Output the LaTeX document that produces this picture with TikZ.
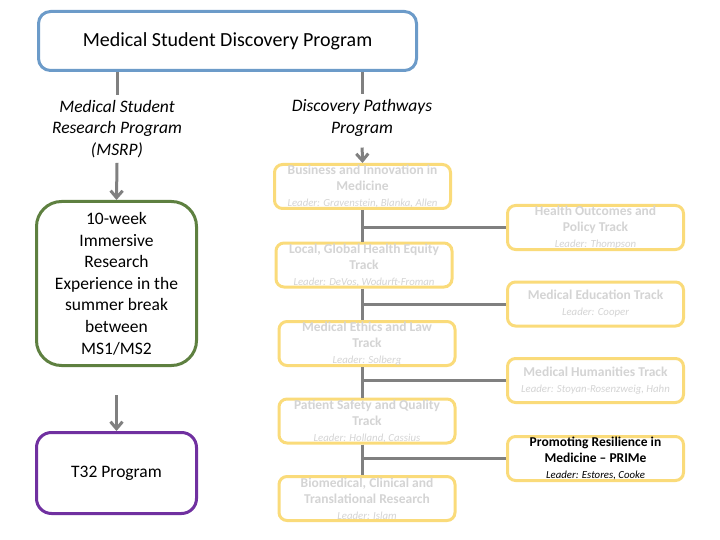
\documentclass[tikz,border=0pt]{standalone}
\usepackage{fontspec}
\setmainfont{Carlito}
\usetikzlibrary{arrows.meta}
\definecolor{progblue}{HTML}{6C9BC9}
\definecolor{proggreen}{HTML}{5E8040}
\definecolor{progpurple}{HTML}{7030A0}
\definecolor{trackyellow}{HTML}{FADB7A}
\definecolor{linkgray}{HTML}{808080}
\definecolor{fadetext}{HTML}{D4D4D4}
\newcommand\trackleader[1]{{\fontsize{10.8}{16}\selectfont\mdseries\itshape #1}}
\begin{document}
\begin{tikzpicture}[x=1pt,y=-1pt,
    prog/.style={draw,line width=3pt,fill=white,align=center,inner sep=0pt},
    track/.style={draw=trackyellow,line width=3pt,rounded corners=8pt,fill=white,align=center,inner sep=0pt,
      minimum width=176pt,minimum height=44pt,text=fadetext,font=\fontsize{13.5}{16}\selectfont\bfseries},
    label/.style={align=center,inner sep=5pt,font=\fontsize{17.5}{21.5}\selectfont\itshape},
    link/.style={draw=linkgray,line width=3pt},
    arr/.style={link,-{Straight Barb[length=7pt,width=12pt]}}]
    \useasboundingbox (0,0) rectangle (720,540);
    \node[prog,draw=progblue,rounded corners=12pt,minimum width=378pt,minimum height=59pt,font=\fontsize{20}{24}\selectfont] (top) at (227.5,41) {Medical Student Discovery Program};
    \node[label] (msrp) at (117,129) {Medical Student\\Research Program\\(MSRP)};
    \node[label] (dpp) at (362,118) {Discovery Pathways\\Program};
    \node[prog,draw=proggreen,rounded corners=25pt,minimum width=160pt,minimum height=164pt,font=\fontsize{17.5}{21.6}\selectfont] (summer) at (116.5,283.5) {10-week\\Immersive\\Research\\Experience in the\\summer break\\between\\MS1/MS2};
    \node[prog,draw=progpurple,rounded corners=15pt,minimum width=160pt,minimum height=81pt,font=\fontsize{17.5}{21.6}\selectfont] (T32) at (116.5,473) {T32 Program};
    \node[track] (biz) at (362.5,186.5) {Business and Innovation in\\Medicine\\\trackleader{Leader: Gravenstein, Blanka, Allen}};
    \node[track] (equity) at (364,265) {Local, Global Health Equity\\Track\\\trackleader{Leader: DeVos, Wodurft-Froman}};
    \node[track] (ethics) at (367,343.5) {Medical Ethics and Law\\Track\\\trackleader{Leader: Solberg}};
    \node[track] (safety) at (367,421) {Patient Safety and Quality\\Track\\\trackleader{Leader: Holland, Cassius}};
    \node[track] (biomed) at (367,498.5) {Biomedical, Clinical and\\Translational Research\\\trackleader{Leader: Islam}};
    \node[track] (policy) at (595.5,227.5) {Health Outcomes and\\Policy Track\\\trackleader{Leader: Thompson}};
    \node[track] (edu) at (595.5,304) {Medical Education Track\\\trackleader{Leader: Cooper}};
    \node[track] (human) at (595.5,380.5) {Medical Humanities Track\\\trackleader{Leader: Stoyan-Rosenzweig, Hahn}};
    \node[track,text=black] (prime) at (595.5,458.5) {Promoting Resilience in\\Medicine -- PRIMe\\\trackleader{Leader: Estores, Cooke}};
    \draw[link] (top.south -| msrp.north) -- (msrp.north);
    \draw[link] (top.south -| dpp.north) -- (dpp.north);
    \draw[arr] (msrp.south) -- (summer.north);
    \draw[arr,shorten <=28pt] (summer.south) -- (T32.north);
    \draw[arr,shorten <=6pt] (dpp.south) -- (biz.north);
    \draw[link] (biz.south) -- (biz.south |- equity.north);
    \draw[link] (biz.south |- equity.south) -- (biz.south |- ethics.north);
    \draw[link] (biz.south |- ethics.south) -- (biz.south |- safety.north);
    \draw[link] (biz.south |- safety.south) -- (biz.south |- biomed.north);
    \draw[link] (policy.west) -- (policy.west -| biz.south);
    \draw[link] (edu.west) -- (edu.west -| biz.south);
    \draw[link] (human.west) -- (human.west -| biz.south);
    \draw[link] (prime.west) -- (prime.west -| biz.south);
\end{tikzpicture}
\end{document}
